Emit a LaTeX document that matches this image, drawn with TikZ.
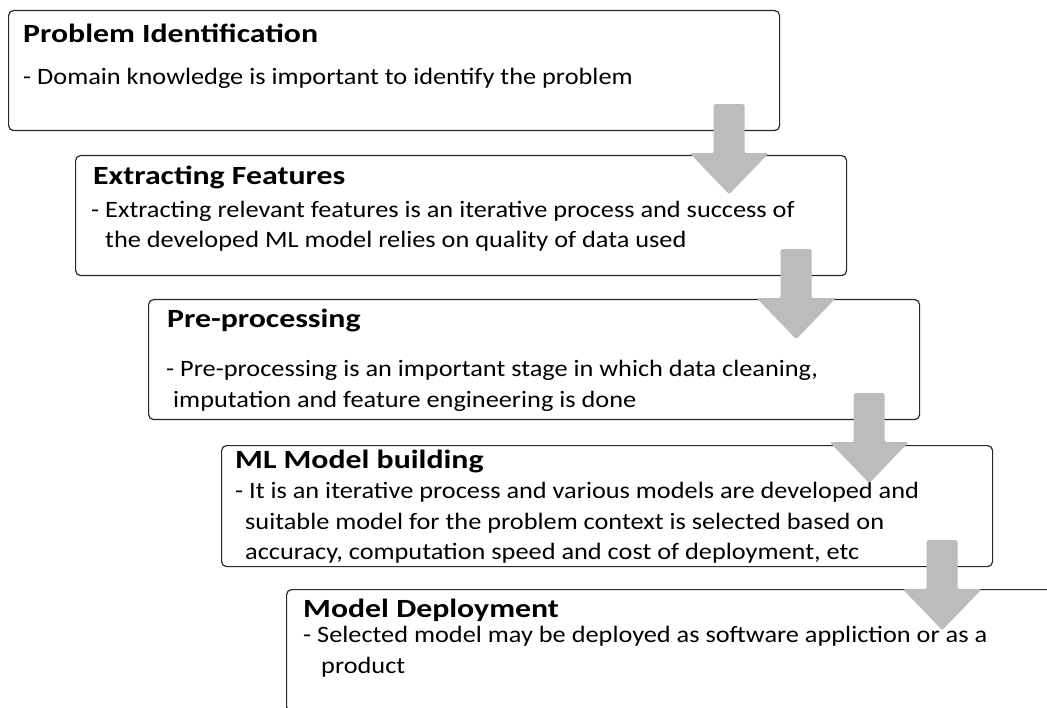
\documentclass[tikz,border=0pt]{standalone}
\usepackage{fontspec}
\setmainfont{Carlito}
\newfontfamily\bodyfont[FakeStretch=1.12]{Carlito}
\newfontfamily\titlefont[FakeStretch=1.21]{Carlito}
\definecolor{arrowgray}{RGB}{188,188,188}
\definecolor{boxline}{RGB}{40,40,40}
\begin{document}
\begin{tikzpicture}[x=1pt,y=-1pt,
  stagebox/.style={draw=boxline,line width=1.2pt,rounded corners=5pt,fill=white,
    minimum width=771pt,minimum height=120pt,anchor=north west,inner sep=0pt},
  titletext/.style={anchor=base west,inner sep=0pt,font=\titlefont\fontsize{26.3}{32}\selectfont\bfseries},
  bodytext/.style={anchor=base west,inner sep=0pt,font=\bodyfont\fontsize{23.5}{28}\selectfont},
  flowarrow/.style={fill=arrowgray,draw=none,rounded corners=2pt}]
\useasboundingbox (0,0) rectangle (1047,708);
\clip (0,0) rectangle (1047,708);
\fill[white] (0,0) rectangle (1047,708);
% boxes
\node[stagebox] (b1) at (8,10) {};
\node[stagebox] (b2) at (75,155) {};
\node[stagebox] (b3) at (148,299) {};
\node[stagebox,minimum height=121pt] (b4) at (221,445) {};
\node[stagebox,minimum height=122pt] (b5) at (286,589) {};
% texts
\node[titletext] (t1) at (23,43) {Problem Identification};
\node[bodytext] (t1a) at (23,85) {- Domain knowledge is important to identify the problem};
\node[titletext] (t2) at (93,185) {Extracting Features};
\node[bodytext] (t2a) at (91,218) {- Extracting relevant features is an iterative process and success of};
\node[bodytext] (t2b) at (105,248) {the developed ML model relies on quality of data used};
\node[titletext] (t3) at (167,328) {Pre-processing};
\node[bodytext] (t3a) at (166,377) {- Pre-processing is an important stage in which data cleaning,};
\node[bodytext] (t3b) at (173,408) {imputation and feature engineering is done};
\node[titletext] (t4) at (235,468) {ML Model building};
\node[bodytext] (t4a) at (235,498) {- It is an iterative process and various models are developed and};
\node[bodytext] (t4b) at (245,529) {suitable model for the problem context is selected based on};
\node[bodytext] (t4c) at (245,559) {accuracy, computation speed and cost of deployment, etc};
\node[titletext] (t5) at (303,617) {Model Deployment};
\node[bodytext] (t5a) at (303,642) {- Selected model may be deployed as software appliction or as a};
\node[bodytext] (t5b) at (321,673) {product};
% arrows
\foreach \i in {1,2,3,4}{
  \coordinate (a\i) at ([shift={(-51,-27)}]b\i.south east);
  \fill[flowarrow] (a\i) ++(-15.5,0) -- ++(31,0) -- ++(0,49) -- ++(24,0)
     -- ++(-39.5,41) -- ++(-39.5,-41) -- ++(24,0) -- cycle;
}
\end{tikzpicture}
\end{document}
